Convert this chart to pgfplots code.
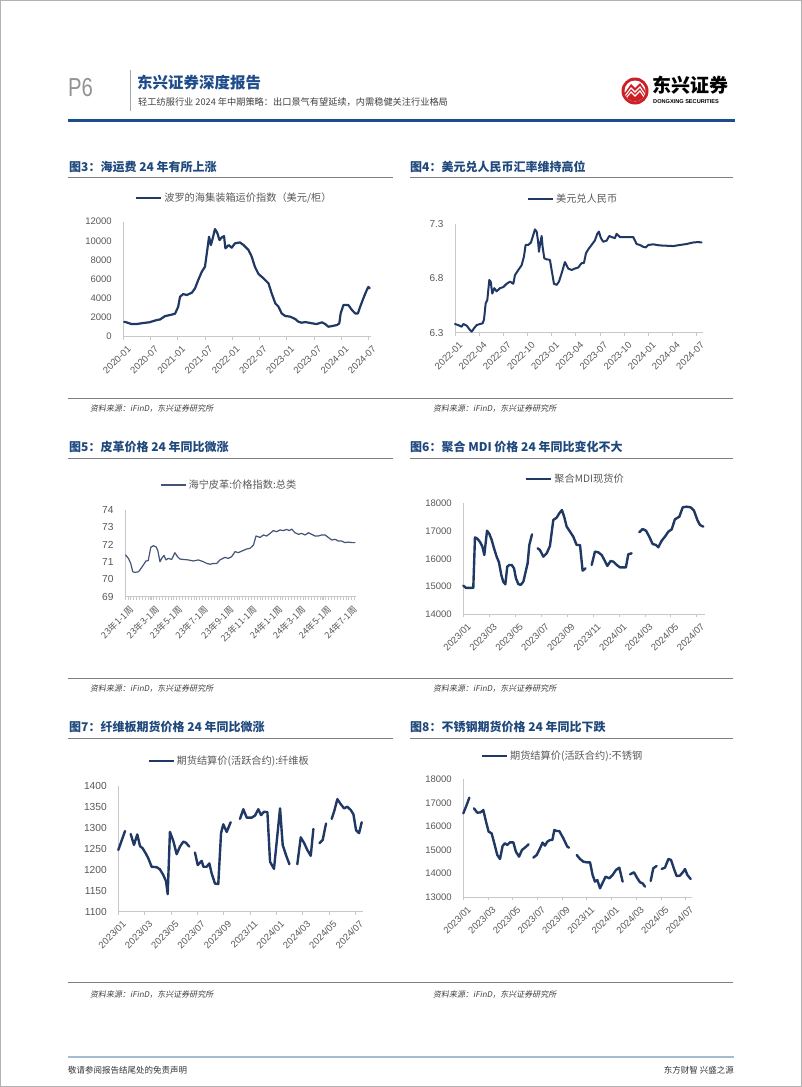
\documentclass[border=0pt]{standalone}
\usepackage{pgfplots}
\pgfplotsset{compat=1.18}
\usepackage{fontspec}
\setmainfont{Liberation Sans}
\newfontfamily\cjk{Noto Sans CJK SC}
\newfontfamily\cjkit{Noto Sans CJK SC}[FakeSlant=0.18]
\definecolor{navy}{RGB}{32,56,100}
\definecolor{slate}{RGB}{68,84,120}
\definecolor{titleblue}{RGB}{31,73,125}
\definecolor{hdrblue}{RGB}{30,76,138}
\definecolor{ticklab}{RGB}{89,89,89}
\definecolor{axisgray}{RGB}{200,200,200}
\definecolor{rulegray}{RGB}{128,128,128}
\definecolor{logored}{RGB}{204,32,39}
\definecolor{footblue}{RGB}{165,188,208}

\pgfplotsset{
  pg/.style={
    scale only axis, anchor=south west, clip=false,
    axis x line*=bottom, axis y line*=left,
    axis line style={draw=axisgray, line width=0.7pt, -},
    xtick align=outside,
    major x tick style={draw=axisgray, line width=0.7pt},
    major y tick style={draw=none},
    major tick length=3pt,
    scaled x ticks=false, scaled y ticks=false,
    /pgf/number format/assume math mode=true,
    /pgf/number format/1000 sep={},
    ticklabel style={font=\fontsize{9.5}{10}\selectfont, text=ticklab},
    xticklabel style={rotate=45, anchor=north east, inner sep=1pt, yshift=-5pt, font=\fontsize{9.5}{10}\selectfont},
    yticklabel style={xshift=-8pt},
    cycle list={{navy}},
    every axis plot/.append style={line width=2.2pt, color=navy, line join=round, line cap=round},
    legend style={draw=none, fill=none, font=\cjk\fontsize{10.2}{11}\selectfont, text=ticklab, anchor=west, inner sep=0pt},
    legend image code/.code={\draw[##1, line width=2.2pt, line cap=butt] (0pt,0pt) -- (25pt,0pt);},
    unbounded coords=jump,
  }
}

\begin{document}
\begin{tikzpicture}
\path[use as bounding box] (0,0) rectangle (802pt,-1087pt);
\fill[white] (0,0) rectangle (802pt,-1087pt);
\draw[gray!60, line width=0.8pt] (0.5pt,-0.5pt) rectangle (801.5pt,-1086.5pt);

% ---------- header ----------
\node[anchor=west, inner sep=0, text=gray!85, font=\fontsize{26}{28}\selectfont] at (68pt,-88pt) {\scalebox{0.78}[1]{P6}};
\draw[gray!70, line width=1pt] (130pt,-70pt) -- (130pt,-111pt);
\node[anchor=west, inner sep=0, text=hdrblue, font=\cjk\bfseries\fontsize{15.5}{17}\selectfont] at (137pt,-83pt) {东兴证券深度报告};
\node[anchor=west, inner sep=0, text=black!75, font=\cjk\fontsize{9.2}{11}\selectfont] at (138pt,-102.5pt) {轻工纺服行业 2024 年中期策略：出口景气有望延续，内需稳健关注行业格局};
% logo
\fill[logored] (635pt,-91pt) circle (13.5pt);
\fill[white] (635pt,-91pt) circle (10.5pt);
\begin{scope}
\clip (635pt,-91pt) circle (10.5pt);
\fill[logored] (622pt,-97pt) -- (631pt,-84pt) -- (635pt,-88pt) -- (640pt,-83pt) -- (648pt,-95pt) -- (648pt,-106pt) -- (622pt,-106pt) -- cycle;
\draw[white, line width=1.1pt] (622pt,-100pt) -- (631pt,-88pt) -- (635pt,-92pt) -- (640pt,-87pt) -- (648pt,-99pt);
\draw[white, line width=1.1pt] (622pt,-103pt) -- (631pt,-92pt) -- (635pt,-96pt) -- (640pt,-91pt) -- (648pt,-103pt);
\end{scope}
\node[anchor=west, inner sep=0, text=black, font=\cjk\bfseries\fontsize{19}{20}\selectfont] at (652pt,-85.5pt) {东兴证券};
\node[anchor=west, inner sep=0, text=black, font=\bfseries\fontsize{5.6}{6}\selectfont] at (653pt,-101.3pt) {DONGXING SECURITIES};
\draw[hdrblue, line width=3pt] (68pt,-120.5pt) -- (735pt,-120.5pt);

% ---------- section titles ----------
\tikzset{sect/.style={anchor=west, inner sep=0, text=titleblue, font=\cjk\bfseries\fontsize{12}{14}\selectfont}}
\node[sect] at (69pt,-166.7pt) {图3：海运费 24 年有所上涨};
\node[sect] at (410pt,-166.7pt) {图4：美元兑人民币汇率维持高位};
\node[sect] at (69pt,-446.7pt) {图5：皮革价格 24 年同比微涨};
\node[sect] at (410pt,-446.7pt) {图6：聚合 MDI 价格 24 年同比变化不大};
\node[sect] at (69pt,-727.3pt) {图7：纤维板期货价格 24 年同比微涨};
\node[sect] at (410pt,-727.3pt) {图8：不锈钢期货价格 24 年同比下跌};
\foreach \yy in {177.5,458,738}{
  \draw[rulegray, line width=0.8pt] (68pt,-\yy pt) -- (393pt,-\yy pt);
  \draw[rulegray, line width=0.8pt] (410pt,-\yy pt) -- (733pt,-\yy pt);
}
% source lines
\foreach \yy/\ly in {409/398,689/678,995/982}{
  \draw[rulegray, line width=0.8pt] (68pt,-\ly pt) -- (733pt,-\ly pt);
  \node[anchor=west, inner sep=0, text=black!75, font=\cjkit\fontsize{8}{9}\selectfont] at (90pt,-\yy pt) {资料来源：iFinD，东兴证券研究所};
  \node[anchor=west, inner sep=0, text=black!75, font=\cjkit\fontsize{8}{9}\selectfont] at (433pt,-\yy pt) {资料来源：iFinD，东兴证券研究所};
}
% footer
\draw[footblue, line width=2pt] (68pt,-1056.5pt) -- (734pt,-1056.5pt);
\node[anchor=west, inner sep=0, text=black!80, font=\cjk\fontsize{8.5}{10}\selectfont] at (68pt,-1070pt) {敬请参阅报告结尾处的免责声明};
\node[anchor=east, inner sep=0, text=black!80, font=\cjk\fontsize{8.5}{10}\selectfont] at (734pt,-1070pt) {东方财智 兴盛之源};

% ---------- Chart 3 ----------
\begin{axis}[pg, at={(123.3pt,-336.7pt)}, width=247.3pt, height=115pt,
  xmin=0, xmax=54.5, ymin=0, ymax=12000, ytick={0,2000,...,12000},
  xtick={0,6,...,54},
  xticklabels={2020-01,2020-07,2021-01,2021-07,2022-01,2022-07,2023-01,2023-07,2024-01,2024-07},
  legend style={at={(axis description cs:0.047,1.209)}}]
\addplot[navy, line width=2.2pt] table {
x y
0.2 1550
0.7 1500
1.8 1320
2.9 1320
4.4 1430
5.7 1500
7.4 1740
8.1 1800
9.2 2150
10.3 2260
11.4 2400
12.1 3130
12.5 4170
13.2 4450
14.0 4350
15.1 4590
15.8 5040
16.5 5900
17.3 6780
18.0 7300
18.5 9040
18.9 10430
19.3 9560
19.7 10260
20.2 11230
20.7 10850
21.2 10080
21.7 10360
22.2 10500
22.5 9220
23.2 9560
23.9 9290
24.6 9740
25.7 9840
26.5 9560
27.6 9040
28.3 8350
29.0 7300
29.8 6540
30.9 6090
32.0 5560
32.7 4520
33.5 3480
34.2 3130
34.9 2430
35.7 2160
36.8 2090
37.9 1840
38.6 1560
39.3 1460
40.1 1530
41.2 1430
42.6 1320
43.8 1500
44.5 1320
45.2 1040
46.0 1110
47.1 1220
47.6 1390
47.9 2430
48.5 3300
49.6 3300
50.4 2780
51.1 2430
51.7 2430
52.2 3130
52.9 4000
53.5 4700
54.0 5200
54.3 5040
};
\addlegendentry{波罗的海集装箱运价指数（美元/柜）}
\end{axis}

% ---------- Chart 4 ----------
\begin{axis}[pg, at={(455pt,-332.7pt)}, width=248pt, height=108.7pt,
  xmin=0, xmax=30.8, ymin=6.3, ymax=7.3, ytick={6.3,6.8,7.3},
  yticklabel style={font=\fontsize{10}{11}\selectfont, /pgf/number format/fixed, /pgf/number format/precision=1, /pgf/number format/fixed zerofill},
  xtick={0,3,...,30},
  xticklabels={2022-01,2022-04,2022-07,2022-10,2023-01,2023-04,2023-07,2023-10,2024-01,2024-04,2024-07},
  legend style={at={(axis description cs:0.289,1.227)}}]
\addplot[navy, line width=2pt] table {
x y
0 6.38
0.41 6.37
0.83 6.355
1.03 6.38
1.45 6.365
1.86 6.325
2.07 6.31
2.36 6.34
2.69 6.37
3.10 6.38
3.43 6.386
3.60 6.42
3.81 6.57
4.01 6.60
4.26 6.785
4.43 6.77
4.63 6.66
4.88 6.71
5.17 6.68
5.59 6.71
6.00 6.72
6.41 6.75
6.83 6.77
7.24 6.75
7.45 6.83
7.86 6.877
8.27 6.92
8.56 7.00
8.77 7.107
9.10 7.107
9.43 7.13
9.64 7.18
9.93 7.25
10.14 7.23
10.30 7.15
10.43 7.045
10.55 7.107
10.76 7.19
10.88 7.09
11.09 6.984
11.38 6.975
11.79 6.97
12.00 6.877
12.29 6.75
12.62 6.74
12.91 6.77
13.24 6.846
13.65 6.95
13.86 6.92
14.07 6.89
14.48 6.877
14.89 6.89
15.31 6.90
15.72 6.94
16.01 6.94
16.26 7.03
16.55 7.067
16.96 7.107
17.38 7.15
17.67 7.21
17.87 7.23
18.12 7.17
18.41 7.137
18.83 7.147
19.16 7.19
19.45 7.18
19.86 7.17
20.07 7.21
20.48 7.18
21.10 7.18
21.72 7.18
22.13 7.18
22.34 7.15
22.55 7.116
22.96 7.107
23.38 7.09
23.71 7.085
24.00 7.107
24.62 7.113
25.44 7.103
26.27 7.10
27.10 7.097
27.93 7.107
28.76 7.116
29.58 7.13
30.20 7.134
30.62 7.13
};
\addlegendentry{美元兑人民币}
\end{axis}

% ---------- Chart 5 ----------
\begin{axis}[pg, at={(125pt,-596.7pt)}, width=230.8pt, height=86.7pt,
  xmin=0, xmax=80.5, ymin=69, ymax=74, ytick={69,...,74},
  yticklabel style={font=\fontsize{10.2}{11}\selectfont},
  xtick={0,9,17,26,35,43,52,60,69,78},
  minor xtick={0,...,80},
  minor x tick style={draw=axisgray, line width=0.5pt},
  minor tick length=3pt,
  xticklabels={23年1-1周,23年3-1周,23年5-1周,23年7-1周,23年9-1周,23年11-1周,24年1-1周,24年3-1周,24年5-1周,24年7-1周},
  xticklabel style={font=\cjk\fontsize{9}{10}\selectfont},
  legend style={at={(axis description cs:0.152,1.288)}},
  legend image code/.code={\draw[#1, line width=1.3pt, line cap=butt] (0pt,0pt) -- (25pt,0pt);}]
\addplot[color=slate, line width=1.2pt] table {
x y
0.2 71.40
1.2 71.21
2.0 70.92
2.7 70.44
3.5 70.40
4.7 70.44
5.2 70.54
6.4 70.83
7.3 71.06
8.1 71.08
9.0 71.85
9.9 71.94
10.8 71.88
11.4 71.69
12.2 71.02
12.8 71.21
13.6 71.38
14.3 71.12
15.1 71.21
16.3 71.15
17.4 71.54
18.3 71.31
19.2 71.17
20.3 71.15
22.1 71.12
23.8 71.06
25.6 71.12
27.3 71.02
28.5 70.92
29.7 70.87
30.8 70.92
32.0 70.92
33.1 71.12
34.9 71.27
36.0 71.21
37.2 71.31
38.4 71.60
39.5 71.54
40.7 71.63
42.4 71.75
43.6 71.79
44.8 71.98
45.7 72.50
47.1 72.42
48.3 72.56
49.4 72.50
50.6 72.65
51.7 72.81
52.9 72.75
54.1 72.85
55.2 72.81
56.4 72.88
57.3 72.81
58.1 72.90
59.3 72.69
60.5 72.60
61.6 72.65
62.8 72.56
64.0 72.69
65.1 72.60
66.3 72.50
67.4 72.50
68.6 72.56
69.8 72.56
70.9 72.42
72.1 72.27
73.3 72.31
74.4 72.21
75.6 72.21
76.7 72.12
77.9 72.15
79.1 72.12
80.2 72.12
};
\addlegendentry{海宁皮革:价格指数:总类}
\end{axis}

% ---------- Chart 6 ----------
\begin{axis}[pg, at={(463.3pt,-614.3pt)}, width=241.2pt, height=111pt,
  xmin=0, xmax=18.6, ymin=14000, ymax=18000, ytick={14000,15000,...,18000},
  xtick={0,2,...,18},
  xticklabels={2023/01,2023/03,2023/05,2023/07,2023/09,2023/11,2024/01,2024/03,2024/05,2024/07},
  legend style={at={(axis description cs:0.256,1.216)}}]
\addplot[navy, line width=2.4pt] table {
x y
0 15033
0.21 14950
0.51 14950
0.77 14950
0.90 16774
1.08 16726
1.29 16606
1.47 16438
1.62 16138
1.83 17015
2.01 16894
2.19 16678
2.37 16378
2.57 16078
2.75 15874
2.93 15417
3.08 15177
3.24 15081
3.39 15717
3.55 15778
3.73 15778
3.91 15658
4.06 15297
4.24 15093
4.42 15057
4.63 15177
4.81 15537
4.96 15838
5.09 16498
5.30 16882
5.50 nan
5.73 16378
5.91 16318
6.17 16078
6.43 16198
6.68 16462
6.94 17399
7.20 17483
7.40 17639
7.61 17759
7.79 17495
7.97 17159
8.23 16978
8.48 16798
8.74 16498
9.00 16498
9.20 15573
9.43 15657
9.65 nan
9.90 15777
10.15 16258
10.41 16234
10.67 16138
10.85 15982
11.11 15741
11.36 15922
11.57 15898
11.83 15778
12.08 15693
12.34 15693
12.54 15693
12.72 16162
12.98 16198
13.30 nan
13.57 16954
13.83 17074
14.09 17014
14.34 16798
14.60 16534
14.86 16498
15.04 16414
15.30 16654
15.55 16798
15.81 16978
16.07 17062
16.32 17423
16.66 17519
16.92 17855
17.22 17879
17.53 17855
17.79 17735
18.05 17399
18.25 17219
18.51 17159
};
\addlegendentry{聚合MDI现货价}
\end{axis}

% ---------- Chart 7 ----------
\begin{axis}[pg, at={(118.3pt,-911.7pt)}, width=245pt, height=126pt,
  xmin=0, xmax=18.6, ymin=1100, ymax=1400, ytick={1100,1150,...,1400},
  yticklabel style={font=\fontsize{10.2}{11}\selectfont},
  xtick={0,2,...,18},
  xticklabels={2023/01,2023/03,2023/05,2023/07,2023/09,2023/11,2024/01,2024/03,2024/05,2024/07},
  legend style={at={(axis description cs:0.118,1.196)}}]
\addplot[navy, line width=2.4pt] table {
x y
0 1247
0.51 1292
0.72 nan
0.94 1285
1.19 1259
1.44 1284
1.65 1256
1.85 1251
2.08 1239
2.28 1227
2.53 1207
2.91 1206
3.16 1201
3.42 1187
3.62 1173
3.75 1142
3.92 1290
4.18 1268
4.43 1237
4.68 1255
4.94 1267
5.14 1264
5.39 1255
5.60 nan
5.82 1241
6.03 1211
6.15 1215
6.33 1221
6.46 1207
6.71 1207
6.91 1215
7.09 1191
7.34 1167
7.59 1166
7.80 1287
7.97 1308
8.23 1290
8.53 1313
8.90 nan
9.24 1321
9.49 1344
9.75 1324
10.13 1324
10.38 1329
10.63 1344
10.84 1330
11.06 1338
11.32 1337
11.52 1219
11.82 1202
12.28 1346
12.48 1259
12.73 1235
12.99 1213
13.30 nan
13.59 1213
13.85 1277
14.10 1264
14.35 1247
14.61 1233
14.81 1297
15.05 nan
15.27 1263
15.52 1271
15.77 1310
16.00 nan
16.20 1321
16.38 1338
16.63 1368
16.89 1356
17.14 1346
17.39 1350
17.65 1342
17.85 1332
18.05 1294
18.28 1287
18.48 1313
};
\addlegendentry{期货结算价(活跃合约):纤维板}
\end{axis}

% ---------- Chart 8 ----------
\begin{axis}[pg, at={(463.3pt,-897.3pt)}, width=228.5pt, height=118pt,
  xmin=0, xmax=18.5, ymin=13000, ymax=18000, ytick={13000,14000,...,18000},
  xtick={0,2,...,18},
  xticklabels={2023/01,2023/03,2023/05,2023/07,2023/09,2023/11,2024/01,2024/03,2024/05,2024/07},
  legend style={at={(axis description cs:0.076,1.197)}}]
\addplot[navy, line width=2.4pt] table {
x y
0 16558
0.27 16911
0.49 17222
0.68 nan
0.86 16770
1.13 16586
1.40 16600
1.62 16699
1.84 16205
2.05 15782
2.29 15711
2.51 15288
2.75 14793
2.97 14624
3.18 15175
3.37 15288
3.56 15217
3.78 15330
4.05 15330
4.26 14934
4.51 14723
4.75 15005
4.99 15104
5.29 15245
5.50 nan
5.67 14680
5.94 14793
6.21 15076
6.42 15316
6.61 15189
6.80 15358
7.02 15429
7.21 15429
7.37 15852
7.56 15810
7.77 15810
8.10 15499
8.42 15146
8.56 15104
8.85 nan
9.18 14793
9.45 14624
9.72 14511
9.99 14483
10.26 14483
10.47 13946
10.66 13664
10.85 13734
11.07 13381
11.26 13593
11.52 13875
11.82 13805
12.09 13946
12.36 14158
12.63 14257
12.90 13664
13.20 nan
13.50 13974
13.82 14059
14.09 13805
14.31 13636
14.52 13593
14.71 13452
14.95 nan
15.17 13692
15.38 14228
15.65 14327
15.85 nan
16.06 14200
16.33 14257
16.60 14624
16.82 14582
17.06 14200
17.27 13904
17.54 13918
17.81 14087
17.95 14200
18.14 13946
18.41 13777
};
\addlegendentry{期货结算价(活跃合约):不锈钢}
\end{axis}
\end{tikzpicture}
\end{document}
